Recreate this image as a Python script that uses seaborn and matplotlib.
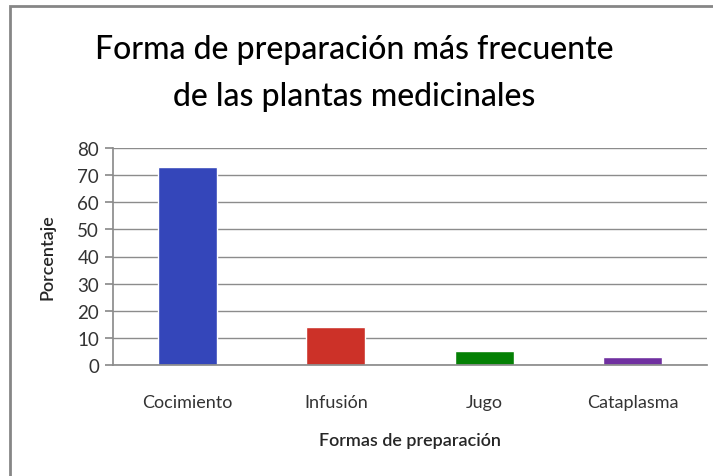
import seaborn as sns
import matplotlib.pyplot as plt
from matplotlib.patches import Rectangle
import numpy as np
import pandas as pd

formas = ['Cocimiento', 'Infusión', 'Jugo', 'Cataplasma']
porcentaje = [73, 14, 5, 3]
colores = ['#3446BA', '#CC3128', '#048004', '#7030A0']
yticks = [0, 10, 20, 30, 40, 50, 60, 70, 80]

sns.set_theme(style='white')
plt.rcParams['font.family'] = ['Lato', 'DejaVu Sans']

df = pd.DataFrame({'forma': formas, 'pct': porcentaje})

fig = plt.figure(figsize=(7.13, 4.77), dpi=100)
ax = fig.add_axes([113/713, 1-366/477, (707-113)/713, (366-149)/477])

sns.barplot(data=df, x='forma', y='pct', hue='forma', palette=colores,
            width=0.4, legend=False, ax=ax, saturation=1)

ax.set_ylim(0, 80)
ax.set_yticks(yticks)
ax.yaxis.grid(True, color='#8c8c8c', linewidth=1)
ax.set_axisbelow(True)
for s in ['top', 'right']:
    ax.spines[s].set_visible(False)
ax.spines['left'].set_color('#8c8c8c')
ax.spines['bottom'].set_color('#8c8c8c')
ax.tick_params(axis='y', left=True, length=6, color='#8c8c8c', labelsize=13.5, labelcolor='#333333', pad=4)
ax.tick_params(axis='x', bottom=False, labelsize=13, labelcolor='#333333', pad=15)

ax.set_xlabel('Formas de preparación', fontsize=13, fontweight='semibold', labelpad=16)
ax.set_ylabel('Porcentaje', fontsize=13, fontweight='semibold', labelpad=16)

fig.text(0.497, 1-50/477, 'Forma de preparación más frecuente', ha='center', va='center',
         fontsize=23, fontweight='medium', color='black')
fig.text(0.497, 1-97/477, 'de las plantas medicinales', ha='center', va='center',
         fontsize=23, fontweight='medium', color='black')

# marco del grafico
fig.add_artist(Rectangle((10/713, -0.1), 1.2, 1.1 - 7/477, transform=fig.transFigure,
                         fill=False, edgecolor='#868686', linewidth=2))

fig.savefig('out.png', dpi=100)
